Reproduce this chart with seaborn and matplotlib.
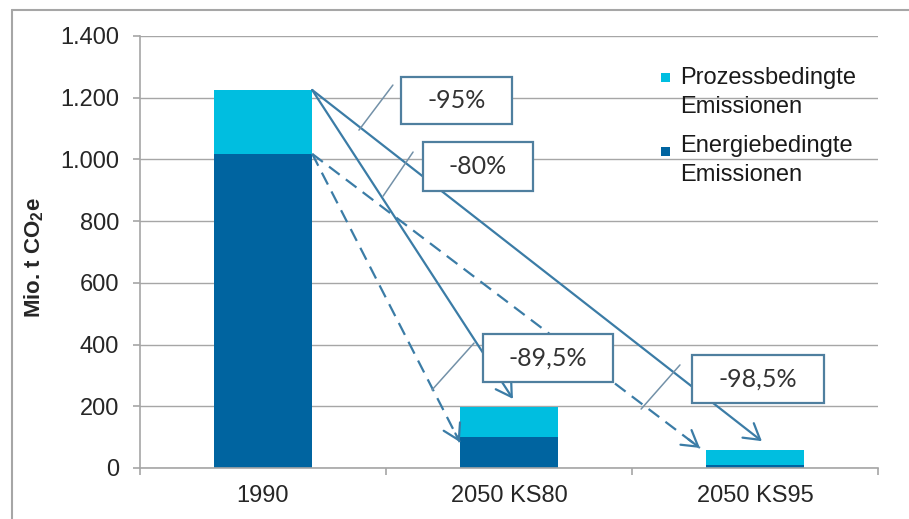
import matplotlib
matplotlib.use("Agg")
import matplotlib.pyplot as plt
import seaborn as sns
import pandas as pd
from matplotlib.patches import Rectangle
from matplotlib.lines import Line2D

# values (Mio. t CO2e)
years = ["1990", "2050 KS80", "2050 KS95"]
energy = [1018, 102, 10]
process = [207, 96, 48]
reductions = ["-95%", "-80%", "-89,5%", "-98,5%"]
legend_labels = ["Prozessbedingte\nEmissionen", "Energiebedingte\nEmissionen"]
yticks = [0, 200, 400, 600, 800, 1000, 1200, 1400]
ytick_labels = ["0", "200", "400", "600", "800", "1.000", "1.200", "1.400"]

total = [e + p for e, p in zip(energy, process)]
df = pd.DataFrame({"year": years, "energy": energy, "total": total})

c_proc = "#00BEE0"
c_energy = "#0064A0"
c_arrow = "#3B7CA6"
c_box = "#4F7F9F"
c_lead = "#7391A8"
grey = "#A6A6A6"

sns.set_style("white")
plt.rcParams["font.family"] = ["Liberation Sans", "DejaVu Sans"]
plt.rcParams["mathtext.fontset"] = "custom"
plt.rcParams["mathtext.rm"] = "Liberation Sans"
plt.rcParams["mathtext.bf"] = "Liberation Sans:bold"

fig = plt.figure(figsize=(9.09, 5.19), dpi=100)
ax = fig.add_axes([140 / 909, 51 / 519, 738 / 909, 432 / 519])

bw = 0.4
sns.barplot(data=df, x="year", y="total", color=c_proc, width=bw, saturation=1,
            linewidth=0, ax=ax, zorder=2)
sns.barplot(data=df, x="year", y="energy", color=c_energy, width=bw, saturation=1,
            linewidth=0, ax=ax, zorder=2)

ax.set_xlim(-0.5, 2.5)
ax.set_ylim(0, 1400)
ax.set_yticks(yticks)
ax.set_yticklabels(ytick_labels)
ax.yaxis.grid(True, color=grey, lw=1)
ax.set_axisbelow(True)
for s in ["top", "right"]:
    ax.spines[s].set_visible(False)
for s in ["left", "bottom"]:
    ax.spines[s].set_color(grey)
    ax.spines[s].set_linewidth(1.2)
ax.tick_params(axis="y", length=5, color=grey, width=1.2, labelsize=17, pad=10, left=True)
ax.set_xticks([0, 1, 2])
ax.set_xticklabels(years)
ax.tick_params(axis="x", which="major", length=0, labelsize=17, pad=12)
ax.set_xticks([-0.5, 0.5, 1.5, 2.5], minor=True)
ax.tick_params(axis="x", which="minor", length=5, color=grey, width=1.2, bottom=True)
ax.set_xlabel("")
ax.set_ylabel("Mio. t CO$_\\mathbf{2}$e", fontsize=16, fontweight="bold")
ax.yaxis.set_label_coords(-0.127, 0.486)

# arrows from 1990 to the 2050 scenarios
head = dict(arrowstyle="->,head_length=0.55,head_width=0.33", mutation_scale=20,
            color=c_arrow, lw=1.6, shrinkA=0, shrinkB=0)
x0 = bw / 2
solid_ends = [(1.016, total[1] + 26), (2.028, total[2] + 29)]
dash_ends = [(0.80, 84), (1.776, 65)]
for xe, ye in solid_ends:
    ax.annotate("", xy=(xe, ye), xytext=(x0, total[0]), arrowprops=head, zorder=3)
for xe, ye in dash_ends:
    ax.plot([x0, xe], [energy[0], ye], color=c_arrow, lw=1.6, ls=(0, (6, 3.5)), zorder=3)
    xs = xe - 0.03 * (xe - x0)
    ys = ye - 0.03 * (ye - energy[0])
    ax.annotate("", xy=(xe, ye), xytext=(xs, ys), arrowprops=head, zorder=3)

# callout boxes: (x0, x1, y0, y1) and leader line
boxes = [(0.561, 1.012, 1115, 1267), (0.650, 1.098, 898, 1056),
         (0.894, 1.423, 279, 434), (1.744, 2.280, 211, 366)]
leaders = [((0.528, 1241), (0.390, 1095)), ((0.610, 1024), (0.488, 881)),
           ((0.858, 405), (0.687, 253)), ((1.695, 334), (1.537, 191))]
for lab, (bx0, bx1, by0, by1), (p, q) in zip(reductions, boxes, leaders):
    ax.plot([p[0], q[0]], [p[1], q[1]], color=c_lead, lw=1.1, zorder=4)
    ax.add_patch(Rectangle((bx0, by0), bx1 - bx0, by1 - by0, facecolor="white",
                           edgecolor=c_box, lw=1.6, zorder=5))
    ax.text((bx0 + bx1) / 2, (by0 + by1) / 2, lab, ha="center", va="center",
            fontsize=18, family=["Lato", "DejaVu Sans"], color="#333333", zorder=6)

# legend, squares beside the first line of each label
W, H = 909, 519
for lab, col, sq_top, txt_top in zip(legend_labels, [c_proc, c_energy], [73, 147], [67, 135]):
    fig.add_artist(Rectangle((661 / W, 1 - (sq_top + 9) / H), 8.5 / W, 9 / H,
                             facecolor=col, edgecolor="none", transform=fig.transFigure))
    fig.text(680 / W, 1 - txt_top / H, lab, fontsize=17, va="top", ha="left",
             color="#1a1a1a", linespacing=1.4)

# outer chart frame
fig.add_artist(Line2D([12 / W, 12 / W], [0, 1 - 10 / H], color=grey, lw=1.5))
fig.add_artist(Line2D([12 / W, 1], [1 - 10 / H, 1 - 10 / H], color=grey, lw=1.5))

fig.savefig("out.png", dpi=100)
